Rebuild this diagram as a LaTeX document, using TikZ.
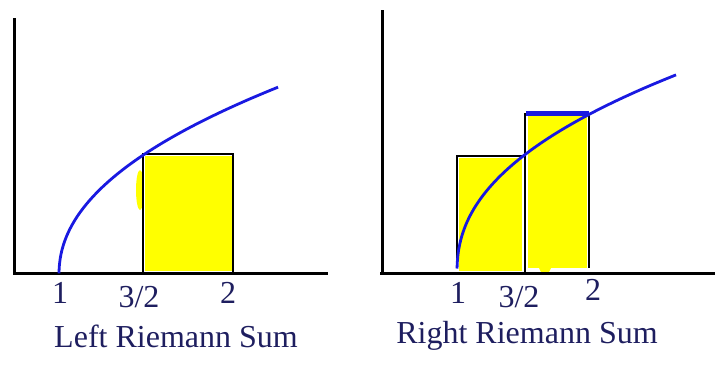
\documentclass[tikz,border=0pt]{standalone}
\usepackage{fontspec}
\setmainfont{Liberation Serif}
\definecolor{labelnavy}{RGB}{30,30,95}
\definecolor{curveblue}{RGB}{25,25,225}
\definecolor{marker}{RGB}{255,255,0}

\begin{document}
\begin{tikzpicture}[x=1pt,y=-1pt,
axis/.style={line width=3pt},
bar/.style={line width=2.6pt},
label/.style={text=labelnavy,inner sep=0pt,font=\fontsize{32}{38}\selectfont},
curve/.style={curveblue,line width=2.8pt,smooth}
]

\tikzstyle{highlight} = [fill=marker,draw=none]

\useasboundingbox (0,0) rectangle (715,365);

% left riemann sum
  \fill[highlight] (145,156) rectangle (232,271);
  \fill[highlight] (140,190) ellipse (4 and 20);
  \draw[bar] (143,273) -- (143,154) -- (233,154) -- (233,273);
  \draw[axis] (14,18) -- (14,273) -- (328,273);
  \draw[curve] plot[domain=0.1:14.8,samples=60] ({59+\x*\x},{275-15*\x^0.938});

  \node (lone)    [label] at (60,293)   {1};
  \node (lhalf)   [label] at (139,297)  {3/2};
  \node (ltwo)    [label] at (228,293)  {2};
  \node (lcap)    [label] at (176,336)  {Left Riemann Sum};

% right riemann sum
  \fill[highlight] (459,158) rectangle (522,271);
  \fill[highlight] (528,116) rectangle (587,268);
  \fill[highlight] (545,268) ellipse (6 and 5);
  \draw[bar] (457,265) -- (457,156) -- (525,156) -- (525,273);
  \draw[bar] (525,156) -- (525,114) -- (589,114) -- (589,268);
  \draw[axis] (382,10) -- (382,273);
  \draw[axis] (380,273) -- (715,273);
  \draw[curve] plot[domain=0.2:14.8,samples=60] ({457+\x*\x},{273-18.5*\x^0.88});
  \draw[curveblue,line width=5pt] (526,113) -- (589,113);

  \node (rone)    [label] at (458,293)  {1};
  \node (rhalf)   [label] at (519,297)  {3/2};
  \node (rtwo)    [label] at (593,290)  {2};
  \node (rcap)    [label] at (527,336)  {Right Riemann Sum};

\end{tikzpicture}
\end{document}
